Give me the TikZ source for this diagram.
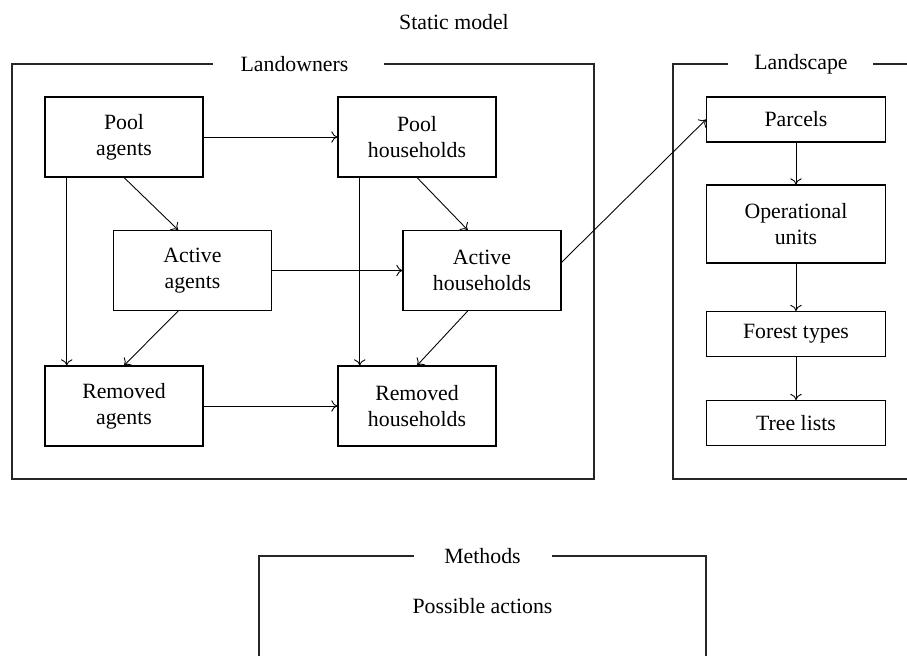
\documentclass[tikz,border=0pt]{standalone}
\usepackage{fontspec}
\setmainfont{Liberation Serif}
\usetikzlibrary{calc,arrows.meta}

\begin{document}
\begin{tikzpicture}[x=0.02cm,y=-0.02cm,
	every node/.style={font=\fontsize{12.4}{14.8}\selectfont},
	box/.style={draw,line width=0.6pt,align=center,minimum width=3.16cm,minimum height=1.6cm,inner sep=0pt},
	landbox/.style={box,minimum width=3.58cm,minimum height=0.9cm},
	frame/.style={line width=0.8pt,draw=black!85},
	conn/.style={-{To[length=3.5pt,width=6.5pt]},line width=0.5pt}]
	\useasboundingbox (0,0) rectangle (907,656);

	% titles
	\node (title) at (454,22) {Static model};
	\node (lo) at (294.5,64) {Landowners};
	\node (ls) at (801,64) {Landscape};
	\node (meth) at (482.5,556) {Methods};
	\node (actions) at (482.5,606) {Possible actions};

	% frames
	\draw [frame] (213,64) -| (12,479) -| (594,64) -- (384,64);
	\draw [frame] (728,64) -| (673,479) -- (907,479);
	\draw [frame] (873,64) -- (907,64);
	\draw [frame] (414,556) -| (259,656);
	\draw [frame] (552,556) -| (706,656);

	% landowners
	\node [box] (poolag) at (124,137) {Pool\\agents};
	\node [box] (poolhh) at (417,137) {Pool\\households};
	\node [box] (actag) at (192.5,270.5) {Active\\agents};
	\node [box] (acthh) at (482,270.5) {Active\\households};
	\node [box] (remag) at (124,406) {Removed\\agents};
	\node [box] (remhh) at (417,406) {Removed\\households};

	% landscape
	\node [landbox] (parc) at (796,119.5) {Parcels};
	\node [landbox,minimum height=1.56cm] (opunit) at (796,224) {Operational\\units};
	\node [landbox] (forest) at (796,334) {Forest types};
	\node [landbox] (trees) at (796,423) {Tree lists};

	\draw [conn] (poolag) -- (poolhh);
	\draw [conn] (actag) -- (acthh);
	\draw [conn] (remag) -- (remhh);
	\draw [conn] (poolag.south) -- ($(actag.north west)!0.41!(actag.north east)$);
	\draw [conn] (poolhh.south) -- ($(acthh.north west)!0.41!(acthh.north east)$);
	\draw [conn] ($(actag.south west)!0.41!(actag.south east)$) -- (remag.north);
	\draw [conn] ($(acthh.south west)!0.41!(acthh.south east)$) -- (remhh.north);
	\draw [conn] ($(poolag.south west)!0.14!(poolag.south east)$) -- ($(remag.north west)!0.14!(remag.north east)$);
	\draw [conn] ($(poolhh.south west)!0.14!(poolhh.south east)$) -- ($(remhh.north west)!0.14!(remhh.north east)$);
	\draw [conn] ($(acthh.north east)!0.4!(acthh.south east)$) -- (parc.west);

	\draw [conn] (parc) -- (opunit);
	\draw [conn] (opunit) -- (forest);
	\draw [conn] (forest) -- (trees);
\end{tikzpicture}
\end{document}
